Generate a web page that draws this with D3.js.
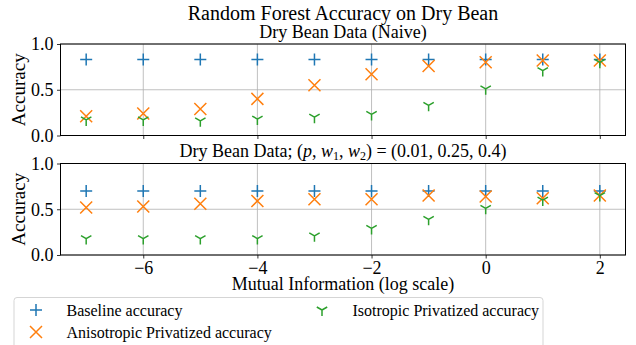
<!DOCTYPE html>
<html>
<head>
<meta charset="utf-8">
<script src="https://cdn.jsdelivr.net/npm/d3@7"></script>
<style>
body { margin: 0; background: #fff; }
svg { font-family: "Liberation Serif", "DejaVu Serif", serif; }
.grid line { stroke: #b0b0b0; stroke-width: 0.8; }
.tick text { font-size: 18px; fill: #000; }
</style>
</head>
<body>
<script>
var mi = [-7, -6, -5, -4, -3, -2, -1, 0, 1, 2];

// top panel: naive
var naiveBaseline = [0.83, 0.83, 0.83, 0.83, 0.83, 0.83, 0.83, 0.83, 0.83, 0.83];
var naiveAniso = [0.21, 0.24, 0.29, 0.40, 0.55, 0.67, 0.76, 0.80, 0.82, 0.82];
var naiveIso = [0.17, 0.17, 0.16, 0.18, 0.20, 0.23, 0.33, 0.51, 0.71, 0.80];

// bottom panel: (p, w1, w2) = (0.01, 0.25, 0.4)
var privBaseline = [0.70, 0.70, 0.70, 0.70, 0.70, 0.70, 0.70, 0.70, 0.70, 0.70];
var privAniso = [0.52, 0.53, 0.56, 0.59, 0.61, 0.61, 0.65, 0.64, 0.62, 0.65];
var privIso = [0.18, 0.18, 0.18, 0.18, 0.21, 0.29, 0.39, 0.51, 0.60, 0.65];

var xTicks = [-6, -4, -2, 0, 2];
var yTicks = [0.0, 0.5, 1.0];
var seriesNames = ["Baseline accuracy", "Anisotropic Privatized accuracy", "Isotropic Privatized accuracy"];
var colors = ["#1f77b4", "#ff7f0e", "#2ca02c"];

var W = 636, H = 345;
var svg = d3.select("body").append("svg")
	.attr("width", W)
	.attr("height", H);

var left = 60.5, right = 625.5;
var x = d3.scaleLinear().domain([-7.45, 2.45]).range([left, right]);

// marker shapes
function plus(g, c) {
	g.append("path").attr("d", "M-6,0H6M0,-6V6").attr("stroke", c).attr("stroke-width", 1.5).attr("fill", "none");
}
function cross(g, c) {
	g.append("path").attr("d", "M-6,-6L6,6M-6,6L6,-6").attr("stroke", c).attr("stroke-width", 1.5).attr("fill", "none");
}
function tri(g, c) {
	g.append("path").attr("d", "M0,0V6M0,0L-5.2,-3M0,0L5.2,-3").attr("stroke", c).attr("stroke-width", 1.5).attr("fill", "none");
}
var markers = [plus, cross, tri];

function panel(top, bottom, series, title, showXLabels) {
	var y = d3.scaleLinear().domain([0, 1]).range([bottom, top]);
	var g = svg.append("g");

	// grid
	var grid = g.append("g").attr("class", "grid");
	grid.selectAll(".gx").data(xTicks).enter().append("line")
		.attr("x1", d => x(d)).attr("x2", d => x(d))
		.attr("y1", top).attr("y2", bottom);
	grid.selectAll(".gy").data(yTicks).enter().append("line")
		.attr("x1", left).attr("x2", right)
		.attr("y1", d => y(d)).attr("y2", d => y(d));

	var xAxis = d3.axisBottom(x).tickValues(xTicks).tickSize(3.5).tickPadding(3)
		.tickFormat(d => showXLabels ? (d < 0 ? "\u2212" + Math.abs(d) : d) : "");
	g.append("g").attr("transform", "translate(0," + bottom + ")").call(xAxis);

	var yAxis = d3.axisLeft(y).tickValues(yTicks).tickSize(3.5).tickPadding(3.5)
		.tickFormat(d3.format(".1f"));
	g.append("g").attr("transform", "translate(" + left + ",0)").call(yAxis);

	g.selectAll(".domain").remove();
	g.selectAll(".tick line").attr("stroke", "#000").attr("stroke-width", 0.8);
	g.selectAll(".tick text").style("font-family", "Liberation Serif, serif");

	g.append("rect")
		.attr("x", left).attr("y", top)
		.attr("width", right - left).attr("height", bottom - top)
		.attr("fill", "none").attr("stroke", "#000").attr("stroke-width", 1);

	series.forEach(function (vals, i) {
		vals.forEach(function (v, j) {
			var m = g.append("g").attr("transform", "translate(" + x(mi[j]) + "," + y(v) + ")");
			markers[i](m, colors[i]);
		});
	});

	g.append("text")
		.attr("x", (left + right) / 2).attr("y", top - 6.5)
		.attr("text-anchor", "middle")
		.style("font-size", "18px")
		.html(title);

	g.append("text")
		.attr("transform", "translate(25," + ((top + bottom) / 2) + ") rotate(-90)")
		.attr("text-anchor", "middle")
		.style("font-size", "19px")
		.text("Accuracy");
}

svg.append("text")
	.attr("x", (left + right) / 2).attr("y", 20)
	.attr("text-anchor", "middle")
	.style("font-size", "20px")
	.text("Random Forest Accuracy on Dry Bean");

panel(44, 135.5, [naiveBaseline, naiveAniso, naiveIso], "Dry Bean Data (Naive)", false);
panel(163.5, 255, [privBaseline, privAniso, privIso],
	"Dry Bean Data; (<tspan font-style='italic'>p</tspan>, <tspan font-style='italic'>w</tspan><tspan font-size='12px' dy='3'>1</tspan><tspan dy='-3'>, </tspan><tspan font-style='italic'>w</tspan><tspan font-size='12px' dy='3'>2</tspan><tspan dy='-3'>) = (0.01, 0.25, 0.4)</tspan>", true);

svg.append("text")
	.attr("x", (left + right) / 2).attr("y", 290)
	.attr("text-anchor", "middle")
	.style("font-size", "18px")
	.text("Mutual Information (log scale)");

// legend
var lg = svg.append("g");
lg.append("rect")
	.attr("x", 14).attr("y", 297.5)
	.attr("width", 529).attr("height", 60)
	.attr("rx", 3)
	.attr("fill", "#fff").attr("stroke", "#d5d5d5").attr("stroke-width", 1);
var legPos = [[36, 310], [36, 332], [322, 310]];
seriesNames.forEach(function (name, i) {
	var m = lg.append("g").attr("transform", "translate(" + legPos[i][0] + "," + legPos[i][1] + ")");
	markers[i](m, colors[i]);
	lg.append("text")
		.attr("x", legPos[i][0] + 30.5).attr("y", legPos[i][1] + 5.5)
		.style("font-size", "16px")
		.text(name);
});
</script>
</body>
</html>
